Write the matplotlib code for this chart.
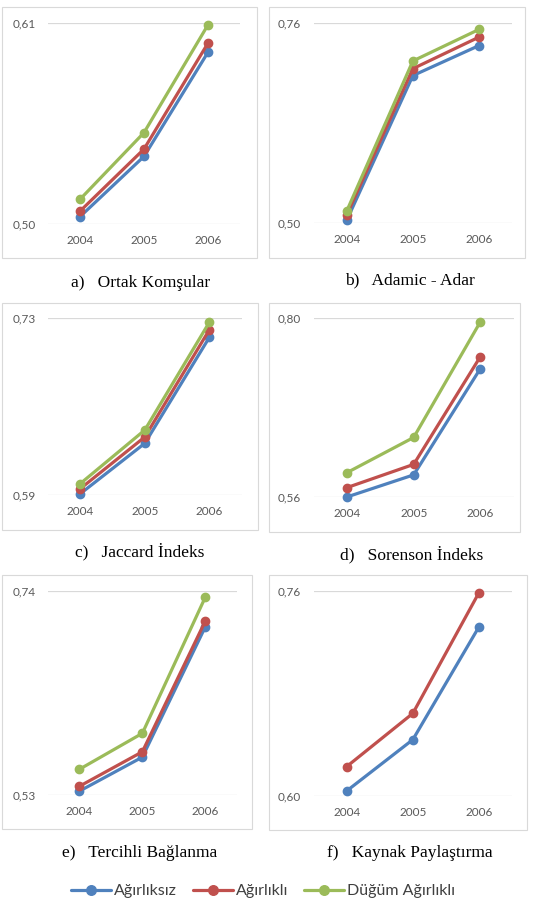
import matplotlib.pyplot as plt
from matplotlib.patches import Rectangle

W, H = 534, 899

years = ['2004', '2005', '2006']
series_names = ['Ağırlıksız', 'Ağırlıklı', 'Düğüm Ağırlıklı']
colors = ['#4F81BD', '#C0504D', '#9BBB59']

# a) Ortak Komsular
ortak_agirliksiz = [0.504, 0.537, 0.594]
ortak_agirlikli = [0.507, 0.541, 0.599]
ortak_dugum = [0.5135, 0.550, 0.609]
ortak_lim = (0.50, 0.61)

# b) Adamic - Adar
adamic_agirliksiz = [0.504, 0.692, 0.731]
adamic_agirlikli = [0.511, 0.701, 0.742]
adamic_dugum = [0.516, 0.711, 0.752]
adamic_lim = (0.50, 0.76)

# c) Jaccard
jaccard_agirliksiz = [0.591, 0.631, 0.715]
jaccard_agirlikli = [0.595, 0.636, 0.721]
jaccard_dugum = [0.599, 0.6415, 0.727]
jaccard_lim = (0.59, 0.73)

# d) Sorenson
sorenson_agirliksiz = [0.5605, 0.590, 0.732]
sorenson_agirlikli = [0.573, 0.604, 0.748]
sorenson_dugum = [0.593, 0.640, 0.7945]
sorenson_lim = (0.56, 0.80)

# e) Tercihli Baglanma
tercihli_agirliksiz = [0.534, 0.569, 0.703]
tercihli_agirlikli = [0.539, 0.5745, 0.709]
tercihli_dugum = [0.5565, 0.5935, 0.7335]
tercihli_lim = (0.53, 0.74)

# f) Kaynak Paylastirma (no node-weighted series)
kaynak_agirliksiz = [0.604, 0.644, 0.732]
kaynak_agirlikli = [0.623, 0.6645, 0.7587]
kaynak_lim = (0.60, 0.76)

captions = ['a)   Ortak Komşular', 'b)   Adamic - Adar', 'c)   Jaccard İndeks',
            'd)   Sorenson İndeks', 'e)   Tercihli Bağlanma', 'f)   Kaynak Paylaştırma']


def frac(x0, y0, x1, y1):  # pixel box -> figure fraction
    return [x0 / W, 1 - y1 / H, (x1 - x0) / W, (y1 - y0) / H]


fig = plt.figure(figsize=(W / 100, H / 100), dpi=100)
fig.patch.set_facecolor('white')

panels = [
    # border box, plot box, data, limits, caption pos
    ((2, 7, 257, 258), (48, 23, 240, 224),
     [ortak_agirliksiz, ortak_agirlikli, ortak_dugum], ortak_lim, (71, 283)),
    ((269, 7, 525, 258), (313.7, 23.3, 512, 223.3),
     [adamic_agirliksiz, adamic_agirlikli, adamic_dugum], adamic_lim, (345, 280)),
    ((2, 303, 258, 530), (48, 318.3, 241.7, 495),
     [jaccard_agirliksiz, jaccard_agirlikli, jaccard_dugum], jaccard_lim, (75, 552)),
    ((269, 303, 520, 532), (313.7, 317.7, 513.7, 497.3),
     [sorenson_agirliksiz, sorenson_agirlikli, sorenson_dugum], sorenson_lim, (340, 555)),
    ((2, 575, 252, 829), (48, 591, 236.7, 795),
     [tercihli_agirliksiz, tercihli_agirlikli, tercihli_dugum], tercihli_lim, (62, 853)),
    ((269, 575, 527, 830), (313.7, 591, 512, 796),
     [kaynak_agirliksiz, kaynak_agirlikli], kaynak_lim, (327, 853)),
]

handles = []
for k, (border, box, data, lim, cap) in enumerate(panels):
    r = Rectangle(frac(*border)[:2], frac(*border)[2], frac(*border)[3],
                  transform=fig.transFigure, facecolor='white',
                  edgecolor='#D9D9D9', linewidth=0.8, zorder=0)
    fig.add_artist(r)
    ax = fig.add_axes(frac(*box))
    ax.set_facecolor('none')
    for i, vals in enumerate(data):
        h, = ax.plot(range(len(years)), vals, color=colors[i], linewidth=2.3,
                     marker='o', markersize=6, label=series_names[i],
                     solid_capstyle='round', clip_on=False, zorder=3)
        if k == 0:
            handles.append(h)
    ax.set_xlim(-0.5, 2.5)
    ax.set_ylim(*lim)
    ax.set_yticks(lim)
    ax.set_yticklabels([('%.2f' % v).replace('.', ',') for v in lim])
    ax.set_xticks(range(len(years)))
    ax.set_xticklabels(years)
    for s in ax.spines.values():
        s.set_visible(False)
    ax.grid(axis='y', color='#D9D9D9', linewidth=0.9)
    ax.set_axisbelow(True)
    ax.tick_params(length=0, labelsize=8.5, labelcolor='#595959')
    ax.tick_params(axis='y', pad=9)
    ax.tick_params(axis='x', pad=8)
    for t in ax.get_xticklabels() + ax.get_yticklabels():
        t.set_family('Lato')
    fig.text(cap[0] / W, 1 - cap[1] / H, captions[k], family='Liberation Serif',
             fontsize=12.5, ha='left', va='center')

fig.legend(handles=handles, loc='center', bbox_to_anchor=(263 / W, 1 - 891 / H),
           ncol=3, frameon=False, handlelength=2.5, handletextpad=0.2,
           columnspacing=1.0, markerscale=1.15, prop={'family': 'Lato', 'size': 11.5},
           labelcolor='#404040')

fig.savefig('out.png', dpi=100, facecolor='white')
